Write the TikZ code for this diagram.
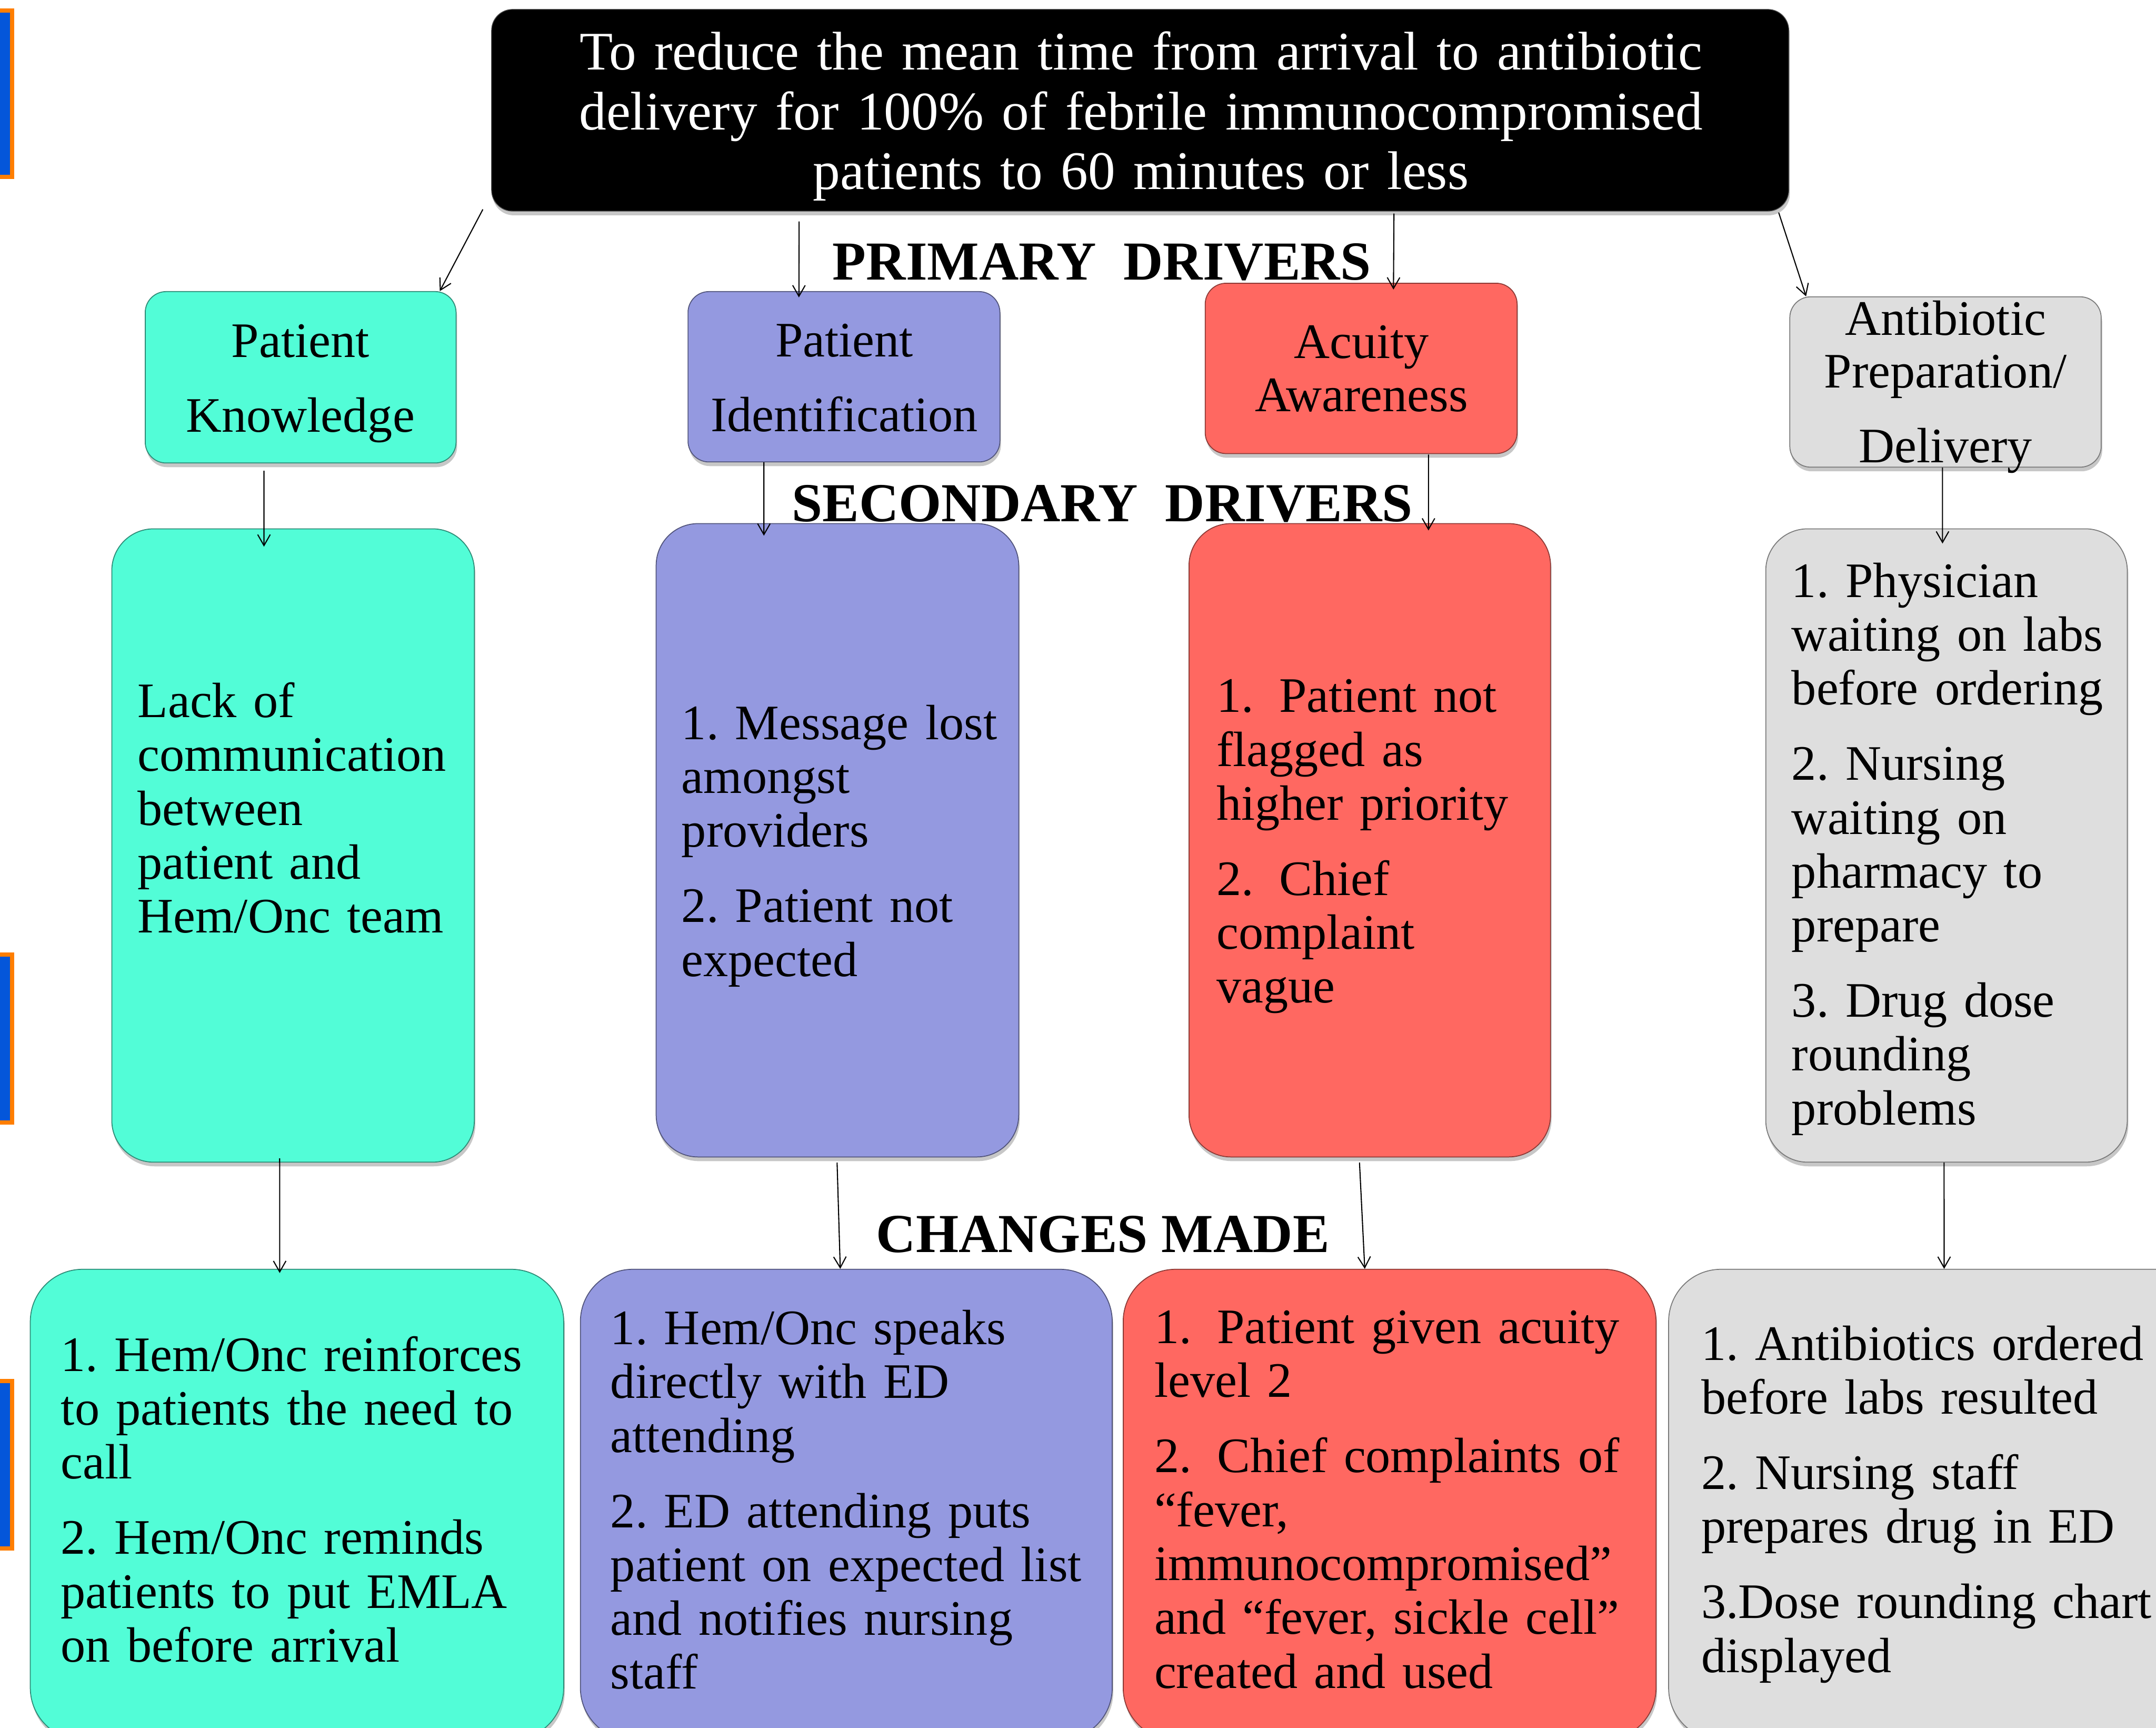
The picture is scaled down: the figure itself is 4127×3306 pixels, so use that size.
\documentclass[tikz,border=0pt]{standalone}
\usepackage{fontspec}
\setmainfont{Liberation Serif}
\usetikzlibrary{arrows.meta,fit,shadows}
\definecolor{cteal}{HTML}{52FDD7}
\definecolor{clav}{HTML}{9499E0}
\definecolor{csal}{HTML}{FF6861}
\definecolor{cgry}{HTML}{DEDEDE}
\definecolor{mkblue}{HTML}{0456DA}
\definecolor{mkorange}{HTML}{FF7E00}
\newcommand\bodyfont{\fontsize{27}{29.3}\selectfont\frenchspacing}
\newcommand\goalfont{\fontsize{29.6}{32.4}\selectfont\frenchspacing}
\newcommand\hdrfont{\fontsize{29.9}{32}\selectfont\bfseries}
\newcommand\gap{\\[0.41cm]}
\newcommand\tb[1]{\makebox[1.2cm][l]{#1}}
\begin{document}
\begin{tikzpicture}[x=0.01cm,y=-0.01cm,
  bx/.style={rectangle, inner sep=0pt, fill=#1, draw=#1!55!black, line width=0.5pt,
    drop shadow={shadow xshift=0.02cm, shadow yshift=-0.08cm, opacity=0.22, fill=black}},
  prim/.style={rounded corners=0.4cm},
  sec/.style={rounded corners=0.8cm},
  chg/.style={rounded corners=1.0cm},
  txt/.style={inner sep=0pt, anchor=base west, align=left, text width=#1, font=\bodyfont},
  ctxt/.style={inner sep=0pt, anchor=base, align=center, text width=#1, font=\bodyfont},
  hdr/.style={inner sep=0pt, anchor=base, font=\hdrfont},
  arr/.style={-{Straight Barb[length=0.21cm,width=0.24cm]}, line width=0.6pt, black},
]
\useasboundingbox (0,0) rectangle (4127,3306);
\clip (0,0) rectangle (4127,3306);
\fill[white] (0,0) rectangle (4127,3306);

% side marks
\fill[mkorange] (-20,16) rectangle (27,343);
\fill[mkblue] (-20,24) rectangle (19,335);
\fill[mkorange] (-20,1823) rectangle (27,2152);
\fill[mkblue] (-20,1831) rectangle (19,2144);
\fill[mkorange] (-20,2639) rectangle (27,2967);
\fill[mkblue] (-20,2647) rectangle (19,2959);

% goal box
\node[fit={(941,18) (3424,404)}, rectangle, inner sep=0pt, fill=black, draw=black!70,
  rounded corners=0.4cm, drop shadow={shadow xshift=0.02cm, shadow yshift=-0.08cm, opacity=0.22, fill=black}] (goal) {};
\node[inner sep=0pt, anchor=base, align=center, text width=24cm, font=\goalfont, text=white] (goaltxt) at (2184,134)
  {To reduce the mean time from arrival to antibiotic\\ delivery for 100\% of febrile immunocompromised\\ patients to 60 minutes or less};

% headers
\node[hdr] (hprim) at (2109,536) {PRIMARY\ \ DRIVERS};
\node[hdr] (hsec) at (2110,998) {SECONDARY\ \ DRIVERS};
\node[hdr] (hchg) at (2111,2396) {CHANGES MADE};

% primary drivers
\node[bx=cteal, prim, fit={(278,558) (873,886)}] (pk) {};
\node[bx=clav, prim, fit={(1317,558) (1914,884)}] (pi) {};
\node[bx=csal, prim, fit={(2307,542) (2904,868)}] (aa) {};
\node[bx=cgry, prim, fit={(3426,568) (4022,894)}] (apd) {};
\node[ctxt=5.9cm] (pkt) at (575,684) {Patient\\[0.4cm] Knowledge};
\node[ctxt=5.9cm] (pit) at (1616,683) {Patient\\[0.4cm] Identification};
\node[ctxt=5.9cm] (aat) at (2606,686) {Acuity\\[-0.02cm] Awareness};
\node[ctxt=5.9cm] (apdt) at (3724,641) {Antibiotic\\[-0.02cm] Preparation/\\[0.4cm] Delivery};

% secondary drivers
\node[bx=cteal, sec, fit={(214,1012) (908,2224)}] (st) {};
\node[bx=clav, sec, fit={(1256,1002) (1950,2214)}] (sb) {};
\node[bx=csal, sec, fit={(2276,1002) (2968,2214)}] (sr) {};
\node[bx=cgry, sec, fit={(3380,1012) (4072,2224)}] (sg) {};
\node[txt=6.3cm] (stt) at (263,1373) {Lack of\\ communication\\ between\\ patient and\\ Hem/Onc team};
\node[txt=6.3cm] (sbt) at (1304,1415) {1. Message lost\\ amongst\\ providers\gap 2. Patient not\\ expected};
\node[txt=6.3cm] (srt) at (2328,1363) {\tb{1.}Patient not\\ flagged as\\ higher priority\gap \tb{2.}Chief\\ complaint\\ vague};
\node[txt=6.3cm] (sgt) at (3429,1143) {1. Physician\\ waiting on labs\\ before ordering\gap 2. Nursing\\ waiting on\\ pharmacy to\\ prepare\gap 3. Drug dose\\ rounding\\ problems};

% changes made
\node[bx=cteal, chg, fit={(58,2429) (1079,3330)}] (ct) {};
\node[bx=clav, chg, fit={(1111,2429) (2129,3330)}] (cb) {};
\node[bx=csal, chg, fit={(2150,2429) (3170,3330)}] (cr) {};
\node[bx=cgry, chg, fit={(3194,2429) (4230,3330)}] (cg) {};
\node[txt=9.5cm] (ctt) at (116,2624) {1. Hem/Onc reinforces\\ to patients the need to\\ call\gap 2. Hem/Onc reminds\\ patients to put EMLA\\ on before arrival};
\node[txt=9.5cm] (cbt) at (1168,2573) {1. Hem/Onc speaks\\ directly with ED\\ attending\gap 2. ED attending puts\\ patient on expected list\\ and notifies nursing\\ staff};
\node[txt=9.5cm] (crt) at (2209,2571) {\tb{1.}Patient given acuity\\ level 2\gap \tb{2.}Chief complaints of\\ “fever,\\ immunocompromised”\\ and “fever, sickle cell”\\ created and used};
\node[txt=9.5cm] (cgt) at (3256,2603) {1. Antibiotics ordered\\ before labs resulted\gap 2. Nursing staff\\ prepares drug in ED\gap 3.Dose rounding chart\\ displayed};

% connectors
\draw[arr] ([xshift=-0.16cm,yshift=0.04cm]goal.south west) -- ([xshift=-0.32cm]pk.north east);
\draw[arr] ([xshift=5.89cm,yshift=-0.19cm]goal.south west) -- ([xshift=2.13cm,yshift=-0.12cm]pi.north west);
\draw[arr] ([xshift=17.27cm,yshift=-0.04cm]goal.south west) -- ([xshift=3.61cm,yshift=-0.13cm]aa.north west);
\draw[arr] ([xshift=-0.2cm,yshift=-0.02cm]goal.south east) -- ([xshift=0.32cm]apd.north west);
\draw[arr] ([xshift=2.28cm,yshift=-0.14cm]pk.south west) -- ([xshift=2.92cm,yshift=-0.35cm]st.north west);
\draw[arr] ([xshift=1.46cm]pi.south west) -- ([xshift=2.07cm,yshift=-0.24cm]sb.north west);
\draw[arr] ([xshift=4.28cm,yshift=-0.01cm]aa.south west) -- ([xshift=4.59cm,yshift=-0.14cm]sr.north west);
\draw[arr] ([xshift=2.93cm]apd.south west) -- ([xshift=3.39cm,yshift=-0.29cm]sg.north west);
\draw[arr] ([xshift=3.22cm,yshift=0.08cm]st.south west) -- ([xshift=4.78cm,yshift=-0.08cm]ct.north west);
\draw[arr] ([xshift=3.47cm,yshift=-0.1cm]sb.south west) -- ([xshift=4.98cm]cb.north west);
\draw[arr] ([xshift=3.27cm,yshift=-0.1cm]sr.south west) -- ([xshift=4.63cm]cr.north west);
\draw[arr] ([xshift=3.42cm]sg.south west) -- ([xshift=5.28cm]cg.north west);
\end{tikzpicture}
\end{document}
